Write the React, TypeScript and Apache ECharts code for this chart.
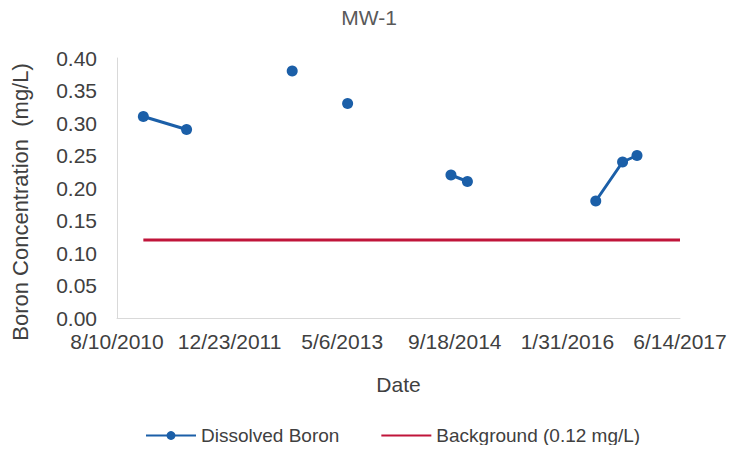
import React, { useEffect, useRef } from "react";
import * as echarts from "echarts";

const sampleDates = [
  "2010-12-05", "2011-06-15", "2012-09-26", "2013-05-30",
  "2014-09-01", "2014-11-13", "2016-06-05", "2016-10-02", "2016-12-05",
];
const boronValues = [0.31, 0.29, 0.38, 0.33, 0.22, 0.21, 0.18, 0.24, 0.25];
// indices of samples that start a new (unconnected) line segment
const segmentStarts = [0, 2, 3, 4, 6];
const backgroundValue = 0.12;
const axisStart = "2010-08-10";
const axisEnd = "2017-06-14";
const tickDays = 500;

const toSerial = (s: string) => {
  const [y, m, d] = s.split("-").map(Number);
  return Date.UTC(y, m - 1, d) / 86400000 + 25569;
};
const fmtSerial = (v: number) => {
  const dt = new Date((v - 25569) * 86400000);
  return `${dt.getUTCMonth() + 1}/${dt.getUTCDate()}/${dt.getUTCFullYear()}`;
};

export default function App() {
  const ref = useRef<HTMLDivElement>(null);
  useEffect(() => {
    const chart = echarts.init(ref.current!, undefined, { renderer: "svg" });
    const pts = sampleDates.map((d, i) => [toSerial(d), boronValues[i]]);
    const segs: number[][][] = [];
    segmentStarts.forEach((s, k) => {
      const e = k + 1 < segmentStarts.length ? segmentStarts[k + 1] : pts.length;
      segs.push(pts.slice(s, e));
    });
    const blue = "#1b5fa8";
    const red = "#c0153a";
    const font = "Arial, 'Liberation Sans', sans-serif";
    const txt = "#404040";
    chart.setOption({
      animation: false,
      title: {
        text: "MW-1",
        left: "center",
        top: 2,
        textStyle: { fontSize: 21, fontWeight: "normal", color: "#595959", fontFamily: font },
      },
      legend: {
        top: 421,
        left: 140,
        itemGap: 41,
        itemWidth: 50,
        itemHeight: 11,
        textStyle: { fontSize: 19, color: txt, fontFamily: font },
        data: [
          { name: "Dissolved Boron" },
          { name: "Background (0.12 mg/L)", itemStyle: { opacity: 0 } },
        ],
      },
      grid: { left: 117, right: 58, top: 58, bottom: 135 },
      xAxis: {
        type: "value",
        min: toSerial(axisStart),
        max: toSerial(axisEnd),
        interval: tickDays,
        name: "Date",
        nameLocation: "middle",
        nameGap: 56,
        nameTextStyle: { fontSize: 21, color: txt, fontFamily: font },
        axisLine: { show: true, lineStyle: { color: "#d9d9d9", width: 1 } },
        axisTick: { show: false },
        splitLine: { show: false },
        axisLabel: { formatter: (v: number) => fmtSerial(v), fontSize: 21, color: txt, fontFamily: font, margin: 13 },
      },
      yAxis: {
        type: "value",
        min: 0,
        max: 0.4,
        interval: 0.05,
        name: "Boron Concentration  (mg/L)",
        nameLocation: "middle",
        nameGap: 86,
        nameTextStyle: { fontSize: 22, color: txt, fontFamily: font, padding: [0, 28, 0, 0] },
        axisLine: { show: true, lineStyle: { color: "#d9d9d9", width: 1 } },
        axisTick: { show: false },
        splitLine: { show: false },
        axisLabel: { formatter: (v: number) => v.toFixed(2), fontSize: 21, color: txt, fontFamily: font, margin: 20 },
      },
      series: [
        ...segs.map((seg) => ({
          name: "Dissolved Boron",
          type: "line",
          data: seg,
          symbol: "circle",
          symbolSize: 11,
          itemStyle: { color: blue },
          lineStyle: { color: blue, width: 3 },
        })),
        {
          name: "Background (0.12 mg/L)",
          type: "line",
          data: [[pts[0][0], backgroundValue], [toSerial(axisEnd), backgroundValue]],
          symbol: "none",
          itemStyle: { color: red },
          lineStyle: { color: red, width: 3 },
        },
      ],
    });
    return () => chart.dispose();
  }, []);
  return <div ref={ref} style={{ width: 738, height: 453, margin: -8, background: "#fff" }} />;
}
